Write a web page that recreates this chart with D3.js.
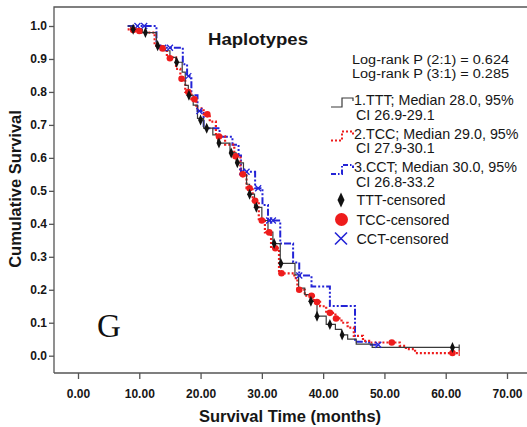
<!DOCTYPE html>
<html><head><meta charset="utf-8">
<script src="https://cdn.jsdelivr.net/npm/d3@7"></script>
<style>body{margin:0;background:#fff}svg{display:block}</style>
</head><body>
<script>
// ---- data ----
const xTicks = [0,10,20,30,40,50,60,70];
const yTicks = [0,0.1,0.2,0.3,0.4,0.5,0.6,0.7,0.8,0.9,1.0];
// step curves: [time, survival from that time]
const tttSteps = [[8.1,1.0],[8.6,0.99],[10.5,0.98],[12.8,0.94],[14,0.925],[15,0.905],[16,0.89],[17,0.86],[17.5,0.82],[18,0.79],[18.8,0.76],[19.5,0.72],[20.5,0.69],[22,0.67],[22.8,0.645],[24.8,0.615],[25.8,0.585],[27,0.55],[27.5,0.52],[28,0.49],[28.8,0.45],[30,0.41],[31,0.375],[31.8,0.34],[33,0.28],[35.4,0.245],[36,0.205],[37,0.185],[38,0.165],[39,0.12],[40.5,0.095],[42,0.08],[43,0.063],[44,0.05],[45.4,0.035],[48,0.025],[62.2,0.025]];
const tttCensored = [[9,0.99],[11,0.98],[13,0.94],[16.1,0.89],[18.1,0.79],[20,0.715],[21,0.69],[23,0.645],[25,0.615],[26,0.585],[28,0.49],[29.1,0.45],[32,0.34],[33.1,0.28],[38,0.165],[39,0.12],[41.1,0.095],[43.1,0.063],[61.1,0.025]];
const tccSteps = [[8.1,0.99],[10,0.98],[12.5,0.94],[13.5,0.93],[14.5,0.905],[16,0.87],[16.7,0.84],[17.5,0.80],[18.5,0.778],[19.3,0.75],[20.5,0.732],[21.5,0.71],[22.5,0.665],[24,0.64],[25.5,0.605],[26.5,0.55],[27.5,0.508],[28.5,0.47],[29.5,0.41],[30.5,0.374],[31.5,0.326],[32.8,0.25],[35.3,0.235],[35.8,0.20],[37,0.182],[38.5,0.163],[39.5,0.15],[40.5,0.13],[42,0.113],[43,0.10],[44,0.085],[45,0.06],[46.5,0.045],[47.5,0.04],[52.5,0.03],[53.5,0.02],[55,0.008],[62.2,0.008]];
const tccCensored = [[9,0.988],[10,0.985],[13.8,0.932],[15,0.902],[16.9,0.84],[18,0.80],[19,0.778],[21.1,0.732],[23,0.665],[25.7,0.605],[26.9,0.55],[28,0.508],[28.9,0.47],[30,0.41],[31.2,0.374],[32.2,0.326],[33.2,0.25],[36.1,0.2],[38.1,0.182],[39,0.163],[41.1,0.13],[42.1,0.113],[51.2,0.04],[61.1,0.008]];
const cctSteps = [[8.1,1.0],[12.8,0.934],[17.1,0.884],[17.8,0.848],[18.5,0.79],[19.5,0.742],[20.5,0.69],[23.1,0.664],[25.2,0.64],[26.2,0.607],[26.6,0.558],[28.9,0.508],[30.1,0.457],[31,0.41],[33,0.34],[35.1,0.283],[36.1,0.243],[38.1,0.21],[41.1,0.151],[45.2,0.042],[47.5,0.033],[49,0.033]];
const cctCensored = [[9.7,1.0],[10.8,1.0],[13.9,0.934],[15,0.934],[18,0.848],[19.8,0.742],[26.8,0.558],[27.5,0.558],[29.4,0.508],[31.2,0.41],[31.8,0.41],[36.1,0.243],[49,0.033]];
const pTexts = ["Log-rank P (2:1) = 0.624","Log-rank P (3:1) = 0.285"];
const legendLines = [["1.TTT; Median 28.0, 95%","CI 26.9-29.1"],["2.TCC; Median 29.0, 95%","CI 27.9-30.1"],["3.CCT; Median 30.0, 95%","CI 26.8-33.2"]];
const censorLabels = ["TTT-censored","TCC-censored","CCT-censored"];

const W=527,H=427;
const svg=d3.select("body").append("svg").attr("width",W).attr("height",H);
const x=d3.scaleLinear().domain([0,70]).range([78,507]);
const y=d3.scaleLinear().domain([0,1]).range([355.7,26]);
const leftX=54, topY=7, bottomY=373;
const axisCol="#555";
const F="Liberation Sans, Arial, sans-serif";
const TXT="#161616";

// frame
svg.append("path").attr("d",`M${leftX},${bottomY}V${topY}H${W}`).attr("fill","none").attr("stroke",axisCol).attr("stroke-width",1.3);
svg.append("line").attr("x1",leftX).attr("x2",W).attr("y1",bottomY).attr("y2",bottomY).attr("stroke",axisCol).attr("stroke-width",1.3);

const ya=svg.append("g").attr("transform",`translate(${leftX},0)`).call(d3.axisLeft(y).tickValues(yTicks).tickFormat(d3.format(".1f")).tickSize(5).tickSizeOuter(0));
const xa=svg.append("g").attr("transform",`translate(0,${bottomY})`).call(d3.axisBottom(x).tickValues(xTicks).tickFormat(d3.format(".2f")).tickSize(6).tickSizeOuter(0));
[ya,xa].forEach(g=>{g.select(".domain").remove();g.selectAll("line").attr("stroke",axisCol).attr("stroke-width",1.3);
  g.selectAll("text").attr("font-family",F).attr("font-weight","bold").attr("font-size",12).attr("fill",TXT);});
ya.selectAll("text").attr("x",-7);
xa.selectAll("text").attr("dy","1.3em");

// axis titles
svg.append("text").attr("x",290).attr("y",422).attr("text-anchor","middle").attr("font-family",F).attr("font-weight","bold").attr("font-size",16.5).attr("fill",TXT).text("Survival Time (months)");
svg.append("text").attr("transform","translate(21,189) rotate(-90)").attr("text-anchor","middle").attr("font-family",F).attr("font-weight","bold").attr("font-size",16.5).attr("fill",TXT).text("Cumulative Survival");

// curves
const line=d3.line().x(d=>x(d[0])).y(d=>y(d[1])).curve(d3.curveStepAfter);
function drawCurve(steps,col,w,dash){
  const p=svg.append("path").datum(steps).attr("d",line).attr("fill","none").attr("stroke",col).attr("stroke-width",w);
  if(dash)p.attr("stroke-dasharray",dash);
  return p;
}
drawCurve(cctSteps,"#2424d6",2,"7,2,2,2,2,2");
drawCurve(tccSteps,"#ee1c1c",2.2,"2,2");
drawCurve(tttSteps,"#3a3a3a",1.2,null);
[[tttSteps,"#3a3a3a"],[tccSteps,"#ee1c1c"]].forEach(([s,c])=>{const l=s[s.length-1];
  svg.append("line").attr("x1",x(l[0])).attr("x2",x(l[0])).attr("y1",y(l[1])-3).attr("y2",y(l[1])+3).attr("stroke",c).attr("stroke-width",1.2);});

function diamond(g,cx,cy,wd,ht,col){g.append("path").attr("d",`M${cx},${cy-ht/2}L${cx+wd/2},${cy}L${cx},${cy+ht/2}L${cx-wd/2},${cy}Z`).attr("fill",col);}
function cross(g,cx,cy,r,col,w){g.append("path").attr("d",`M${cx-r},${cy-r}L${cx+r},${cy+r}M${cx-r},${cy+r}L${cx+r},${cy-r}`).attr("stroke",col).attr("stroke-width",w).attr("fill","none");}

const mk=svg.append("g");
cctCensored.forEach(d=>cross(mk,x(d[0]),y(d[1]),3,"#2424d6",1.3));
tccCensored.forEach(d=>mk.append("circle").attr("cx",x(d[0])).attr("cy",y(d[1])).attr("r",3.3).attr("fill","#ee1c1c"));
tttCensored.forEach(d=>diamond(mk,x(d[0]),y(d[1]),5,11,"#111"));

// title and text
svg.append("text").attr("x",208).attr("y",45).attr("textLength",100).attr("lengthAdjust","spacingAndGlyphs").attr("font-family",F).attr("font-weight","bold").attr("font-size",16).attr("fill",TXT).text("Haplotypes");
pTexts.forEach((t,i)=>svg.append("text").attr("x",352).attr("y",64+i*13.5).attr("textLength",157).attr("lengthAdjust","spacingAndGlyphs").attr("font-family",F).attr("font-size",12.5).attr("fill",TXT).text(t));

// legend
const lg=svg.append("g");
const cols=["#3a3a3a","#ee1c1c","#2424d6"], dashes=[null,"2,2","5,2,1.5,2"], ws=[1.2,2,2];
legendLines.forEach((ls,i)=>{
  const by=105+i*33.5;
  const p=lg.append("path").attr("d",`M331,${by+2}H342V${by-7}H353V${by-4}`).attr("fill","none").attr("stroke",cols[i]).attr("stroke-width",ws[i]);
  if(dashes[i])p.attr("stroke-dasharray",dashes[i]);
  lg.append("text").attr("x",354).attr("y",by).attr("font-family",F).attr("font-size",14.3).attr("fill",TXT).text(ls[0]);
  lg.append("text").attr("x",356).attr("y",by+14.5).attr("font-family",F).attr("font-size",14.3).attr("fill",TXT).text(ls[1]);
});
censorLabels.forEach((t,i)=>lg.append("text").attr("x",356.5).attr("y",205+i*19.5).attr("font-family",F).attr("font-size",14.3).attr("fill",TXT).text(t));
diamond(lg,341,200,7,15,"#111");
lg.append("circle").attr("cx",341.5).attr("cy",219.5).attr("r",6.5).attr("fill","#ee1c1c");
cross(lg,341,238.5,6,"#2424d6",1.6);

// panel letter
svg.append("text").attr("x",97).attr("y",337).attr("font-family","Liberation Serif, Times New Roman, serif").attr("font-size",33).attr("fill","#111").text("G");
</script>
</body></html>
